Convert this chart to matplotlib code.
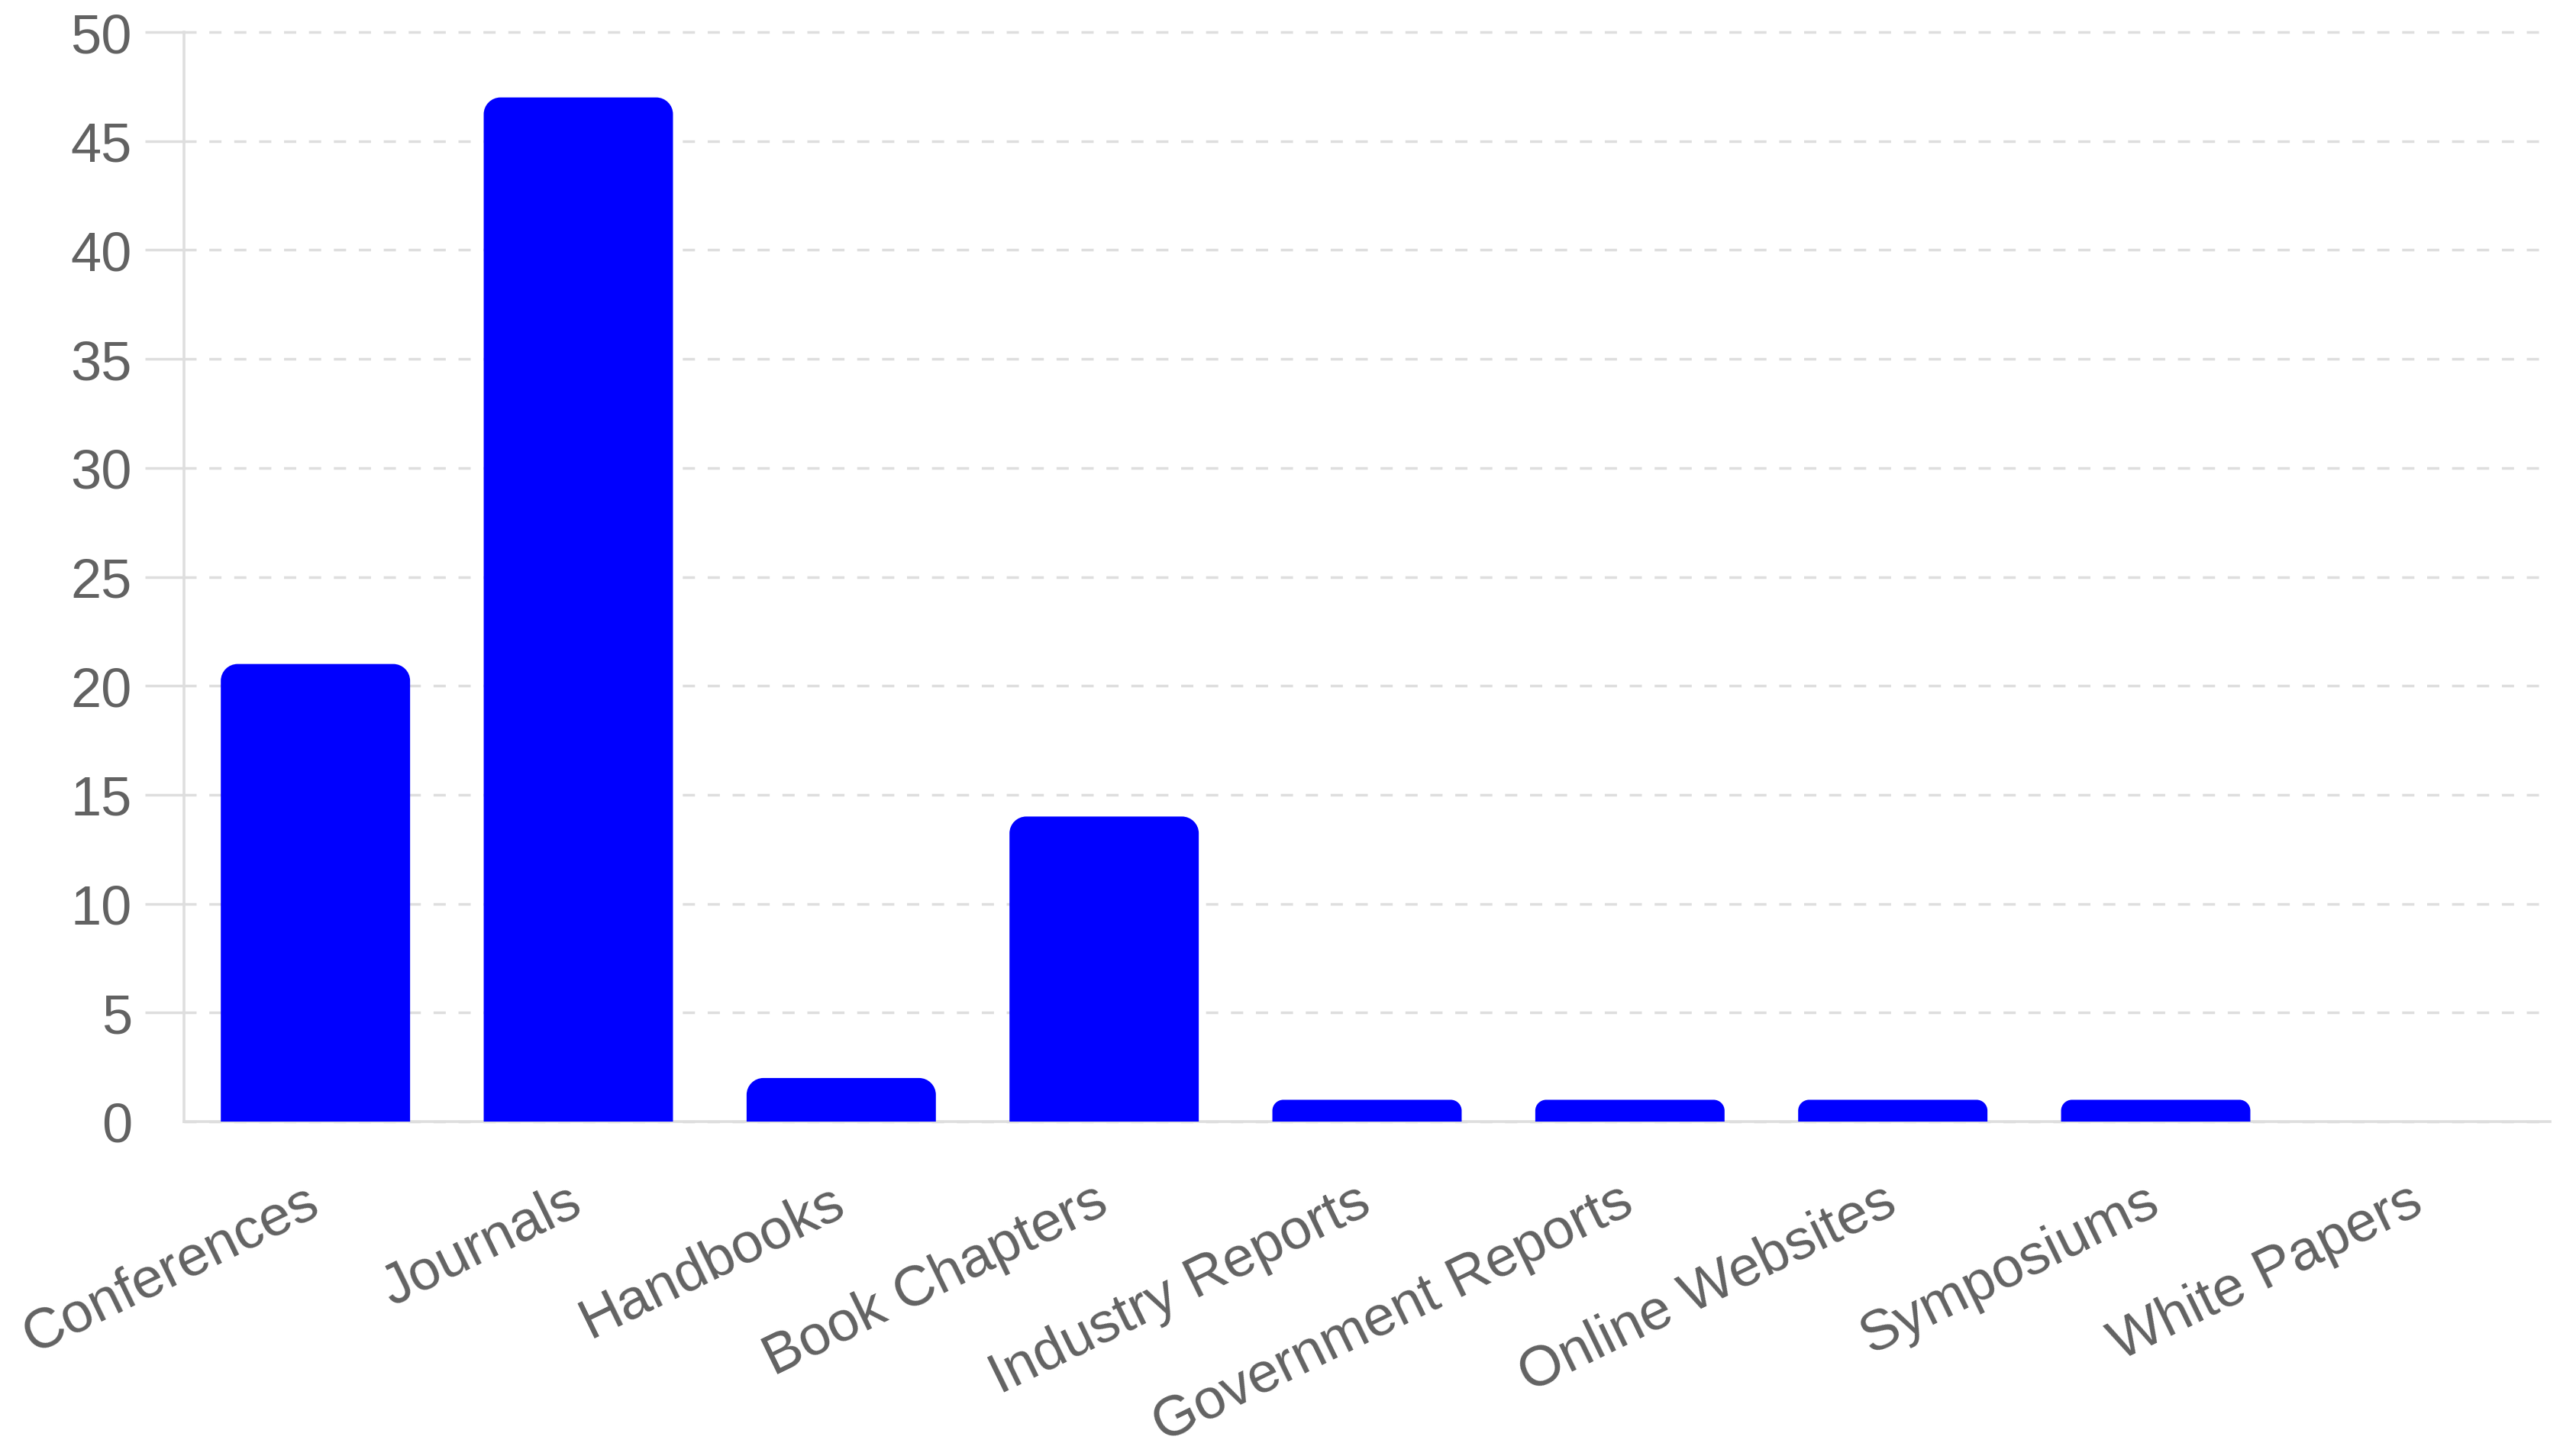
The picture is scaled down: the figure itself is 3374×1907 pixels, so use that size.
import matplotlib
matplotlib.use("Agg")
import matplotlib.pyplot as plt
from matplotlib.path import Path
from matplotlib.patches import PathPatch
import numpy as np

categories = ["Conferences", "Journals", "Handbooks", "Book Chapters",
              "Industry Reports", "Government Reports", "Online Websites",
              "Symposiums", "White Papers"]
values = [21, 47, 2, 14, 1, 1, 1, 1, 0]
yticks = [0, 5, 10, 15, 20, 25, 30, 35, 40, 45, 50]

plt.rcParams['font.family'] = ['Liberation Sans', 'DejaVu Sans']
plt.rcParams['lines.scale_dashes'] = False

W, H = 3374, 1908
dpi = 100
fig = plt.figure(figsize=(W / dpi, H / dpi), dpi=dpi)
left_px, right_px, top_px, bottom_px = 241, 3340, 43, 1470
ax = fig.add_axes([left_px / W, 1 - bottom_px / H,
                   (right_px - left_px) / W, (bottom_px - top_px) / H])

x = np.arange(len(categories))
ax.set_xlim(-0.5, len(categories) - 0.5)
ax.set_ylim(0, 50)

grid_col = '#dedede'
text_col = '#626262'
fs = 52

bars = ax.bar(x, values, width=0.72, color='#0000ff', zorder=3)

px_per_x = (right_px - left_px) / len(categories)
px_per_y = (bottom_px - top_px) / 50.0
r_px = 22
k = 0.5523
for b in bars:
    x0, w, h = b.get_x(), b.get_width(), b.get_height()
    b.set_visible(False)
    if h <= 0:
        continue
    r = min(r_px, h * px_per_y / 2, w * px_per_x / 2)
    rx, ry = r / px_per_x, r / px_per_y
    verts = [(x0, 0), (x0, h - ry),
             (x0, h - ry + k * ry), (x0 + rx - k * rx, h), (x0 + rx, h),
             (x0 + w - rx, h),
             (x0 + w - rx + k * rx, h), (x0 + w, h - ry + k * ry), (x0 + w, h - ry),
             (x0 + w, 0), (x0, 0)]
    codes = [Path.MOVETO, Path.LINETO,
             Path.CURVE4, Path.CURVE4, Path.CURVE4,
             Path.LINETO,
             Path.CURVE4, Path.CURVE4, Path.CURVE4,
             Path.LINETO, Path.CLOSEPOLY]
    ax.add_patch(PathPatch(Path(verts, codes), facecolor='#0000ff',
                           edgecolor='none', zorder=3))

ax.set_yticks(yticks)
ax.set_yticklabels([str(t) for t in yticks])
ax.set_axisbelow(True)
ax.yaxis.grid(True, color=grid_col, linewidth=2.5, linestyle=(0, (11.5, 12.0)))
for gl in ax.get_ygridlines():
    gl.set_clip_on(False)

for s in ['top', 'right']:
    ax.spines[s].set_visible(False)
for s in ['left', 'bottom']:
    ax.spines[s].set_color(grid_col)
    ax.spines[s].set_linewidth(2.6)

ax.tick_params(axis='y', length=37, width=2.5, color=grid_col, pad=12,
               labelsize=fs, labelcolor=text_col)
ax.yaxis.get_major_ticks()[0].tick1line.set_visible(False)

ax.set_xticks(x)
ax.set_xticklabels(categories, rotation=26, ha='right', va='center',
                   rotation_mode='anchor')
ax.tick_params(axis='x', length=0, pad=72, labelsize=53.5, labelcolor=text_col)

fig.savefig("out.png", dpi=dpi, facecolor='white')
